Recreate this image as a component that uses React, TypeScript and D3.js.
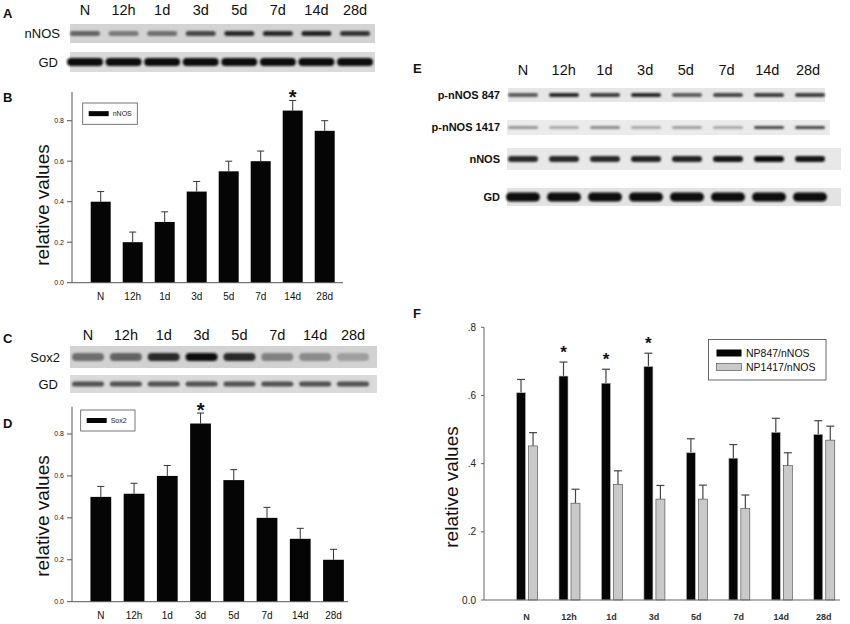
import React from 'react';
import * as d3 from 'd3';

const lanes = ['N', '12h', '1d', '3d', '5d', '7d', '14d', '28d'];

// band intensities read from the blots (0 = none, 1 = darkest)
const blotA_nNOS = [0.55, 0.45, 0.5, 0.7, 0.85, 0.85, 0.9, 0.8];
const blotA_GD = [1, 1, 1, 1, 1, 1, 1, 1];
const blotC_Sox2 = [0.5, 0.55, 0.85, 1, 0.85, 0.4, 0.35, 0.25];
const blotC_GD = [0.65, 0.65, 0.65, 0.65, 0.65, 0.65, 0.65, 0.65];
const blotE_p847 = [0.6, 0.85, 0.75, 0.85, 0.6, 0.7, 0.75, 0.75];
const blotE_p1417 = [0.3, 0.2, 0.35, 0.2, 0.25, 0.2, 0.7, 0.7];
const blotE_nNOS = [0.85, 0.85, 0.85, 0.9, 0.9, 0.95, 1, 0.95];
const blotE_GD = [1, 1, 1, 1, 1, 1, 1, 1];

// panel B
const nnosValues = [0.4, 0.2, 0.3, 0.45, 0.55, 0.6, 0.85, 0.75];
const nnosErr = [0.05, 0.05, 0.05, 0.05, 0.05, 0.05, 0.05, 0.05];
const nnosSig = ['14d'];

// panel D
const sox2Values = [0.5, 0.515, 0.6, 0.85, 0.58, 0.4, 0.3, 0.2];
const sox2Err = [0.05, 0.05, 0.05, 0.05, 0.05, 0.05, 0.05, 0.05];
const sox2Sig = ['3d'];

// panel F
const np847 = [0.608, 0.657, 0.636, 0.685, 0.432, 0.416, 0.492, 0.486];
const np847Err = [0.039, 0.041, 0.041, 0.039, 0.041, 0.04, 0.041, 0.04];
const np1417 = [0.452, 0.284, 0.339, 0.296, 0.296, 0.268, 0.394, 0.469];
const np1417Err = [0.039, 0.041, 0.04, 0.04, 0.041, 0.04, 0.038, 0.041];
const fSig = ['12h', '1d', '3d'];
const fSeries = ['NP847/nNOS', 'NP1417/nNOS'];

const yTicks = [0, 0.2, 0.4, 0.6, 0.8];
const yTickLabelsF = ['0.0', '.2', '.4', '.6', '.8'];

const FONT = "Arial, 'Liberation Sans', sans-serif";
const bandColor = d3.interpolateRgb('#cfcfcf', '#0d0d0d');

function PanelLetter({ x, y, t }: { x: number; y: number; t: string }) {
  return (
    <text x={x} y={y} fontSize={13} fontWeight="bold" fontFamily={FONT} fill="#111">
      {t}
    </text>
  );
}

function LaneHeaders({ x, y, size }: { x: d3.ScalePoint<string>; y: number; size: number }) {
  return (
    <g>
      {lanes.map(l => (
        <text key={l} x={x(l)} y={y} fontSize={size} textAnchor="middle" fontFamily={FONT} fill="#111">
          {l}
        </text>
      ))}
    </g>
  );
}

interface StripProps {
  x: d3.ScalePoint<string>;
  x0: number;
  x1: number;
  y: number;
  h: number;
  label: string;
  labelX: number;
  values: number[];
  bandW: number;
  bandH: number;
  bg: string;
  bold?: boolean;
  fontSize?: number;
}

function Strip({ x, x0, x1, y, h, label, labelX, values, bandW, bandH, bg, bold, fontSize = 13 }: StripProps) {
  const cy = y + h / 2;
  return (
    <g>
      <rect x={x0} y={y} width={x1 - x0} height={h} fill={bg} filter="url(#soft)" />
      {lanes.map((l, i) => (
        <rect
          key={l}
          x={(x(l) ?? 0) - bandW / 2}
          y={cy - bandH / 2}
          width={bandW}
          height={bandH}
          rx={bandH / 2}
          fill={bandColor(values[i])}
          filter="url(#blur)"
        />
      ))}
      <text
        x={labelX}
        y={cy}
        dy="0.35em"
        textAnchor="end"
        fontSize={fontSize}
        fontWeight={bold ? 'bold' : 'normal'}
        fontFamily={FONT}
        fill="#111"
      >
        {label}
      </text>
    </g>
  );
}

interface BarPanelProps {
  values: number[];
  errs: number[];
  sig: string[];
  legend: string;
  xRange: [number, number];
  y0: number;
  y08: number;
  axisTop: number;
  axisRight: number;
  labelY: number;
  legendBox: [number, number, number, number];
}

function BarPanel({ values, errs, sig, legend, xRange, y0, y08, axisTop, axisRight, labelY, legendBox }: BarPanelProps) {
  const x = d3.scaleBand<string>().domain(lanes).range(xRange).paddingInner(0.375).paddingOuter(0.1875);
  const y = d3.scaleLinear().domain([0, 0.8]).range([y0, y08]);
  const axisX = 72;
  const fmt = d3.format('.1f');
  const [lx, ly, lw, lh] = legendBox;
  return (
    <g fontFamily={FONT}>
      {lanes.map((l, i) => {
        const bx = x(l) ?? 0;
        const cx = bx + x.bandwidth() / 2;
        const top = y(values[i]);
        const capY = y(values[i] + errs[i]);
        return (
          <g key={l}>
            <line x1={cx} x2={cx} y1={top} y2={capY} stroke="#333" strokeWidth={1} />
            <line x1={cx - 3.5} x2={cx + 3.5} y1={capY} y2={capY} stroke="#333" strokeWidth={1} />
            <rect x={bx} y={top} width={x.bandwidth()} height={y0 - top} fill="#050505" />
            {sig.includes(l) && (
              <text x={cx} y={capY + 4} textAnchor="middle" fontSize={20} fontWeight="bold" fill="#111">
                *
              </text>
            )}
            <text x={cx} y={y0 + 17} textAnchor="middle" fontSize={10} fill="#111">
              {l}
            </text>
          </g>
        );
      })}
      <line x1={axisX} x2={axisX} y1={axisTop} y2={y0} stroke="#555" />
      <line x1={axisX} x2={axisRight} y1={y0} y2={y0} stroke="#555" />
      {yTicks.map(t => (
        <g key={t}>
          <line x1={axisX - 5} x2={axisX} y1={y(t)} y2={y(t)} stroke="#555" />
          <text x={axisX - 8} y={y(t)} dy="0.35em" textAnchor="end" fontSize={7} fill="#222">
            {fmt(t)}
          </text>
        </g>
      ))}
      <text
        transform={`translate(${49},${labelY}) rotate(-90)`}
        textAnchor="middle"
        fontSize={19}
        fill="#111"
      >
        relative values
      </text>
      <rect x={lx} y={ly} width={lw} height={lh} fill="#fff" stroke="#555" strokeWidth={0.8} />
      <rect x={lx + 6} y={ly + lh / 2 - 2.5} width={20} height={5} fill="#050505" />
      <text x={lx + 30} y={ly + lh / 2} dy="0.35em" fontSize={7} fill="#222">
        {legend}
      </text>
    </g>
  );
}

function PanelF() {
  const y0 = 600;
  const y = d3.scaleLinear().domain([0, 0.8]).range([y0, 327.3]);
  const x = d3.scaleBand<string>().domain(lanes).range([505.3, 845]);
  const sub = d3.scaleBand<string>().domain(fSeries).range([-10, 11]).paddingInner(0.25);
  const series = [
    { key: fSeries[0], vals: np847, errs: np847Err, fill: '#050505', stroke: '#bbb' },
    { key: fSeries[1], vals: np1417, errs: np1417Err, fill: '#c9c9c9', stroke: '#444' },
  ];
  const axisX = 484;
  return (
    <g fontFamily={FONT}>
      {lanes.map((l, i) => {
        const c = (x(l) ?? 0) + x.bandwidth() / 2;
        return (
          <g key={l}>
            {series.map(s => {
              const bx = c + (sub(s.key) ?? 0);
              const cx = bx + sub.bandwidth() / 2;
              const top = y(s.vals[i]);
              const capY = y(s.vals[i] + s.errs[i]);
              return (
                <g key={s.key}>
                  <line x1={cx} x2={cx} y1={top} y2={capY} stroke="#444" strokeWidth={1.2} />
                  <line x1={cx - 4} x2={cx + 4} y1={capY} y2={capY} stroke="#444" strokeWidth={1.2} />
                  <rect
                    x={bx}
                    y={top}
                    width={sub.bandwidth()}
                    height={y0 - top}
                    fill={s.fill}
                    stroke={s.stroke}
                    strokeWidth={0.6}
                  />
                </g>
              );
            })}
            {fSig.includes(l) && (
              <text
                x={c + (sub(fSeries[0]) ?? 0) + sub.bandwidth() / 2}
                y={y(np847[i] + np847Err[i]) - 4}
                textAnchor="middle"
                fontSize={17}
                fontWeight="bold"
                fill="#111"
              >
                *
              </text>
            )}
            <text x={c} y={620} textAnchor="middle" fontSize={9} fontWeight="bold" fill="#333">
              {l}
            </text>
          </g>
        );
      })}
      <line x1={axisX} x2={axisX} y1={327.3} y2={y0} stroke="#666" />
      <line x1={axisX} x2={840} y1={y0} y2={y0} stroke="#666" />
      {yTicks.map((t, i) => (
        <g key={t}>
          <line x1={axisX - 3} x2={axisX} y1={y(t)} y2={y(t)} stroke="#666" />
          <text x={476} y={y(t)} dy="0.35em" textAnchor="end" fontSize={10} fill="#222">
            {yTickLabelsF[i]}
          </text>
        </g>
      ))}
      <text transform="translate(458,487) rotate(-90)" textAnchor="middle" fontSize={19} fill="#111">
        relative values
      </text>
      <rect x={708.5} y={339.5} width={117.5} height={40.5} fill="#fff" stroke="#444" strokeWidth={0.8} />
      {series.map((s, i) => (
        <g key={s.key}>
          <rect
            x={716.5}
            y={349.5 + i * 14}
            width={25}
            height={7}
            fill={s.fill}
            stroke={i === 1 ? '#444' : 'none'}
            strokeWidth={0.6}
          />
          <text x={746} y={353 + i * 14} dy="0.35em" fontSize={10.5} fill="#111">
            {s.key}
          </text>
        </g>
      ))}
    </g>
  );
}

export default function App() {
  const xA = d3.scalePoint<string>().domain(lanes).range([85, 355]);
  const xC = d3.scalePoint<string>().domain(lanes).range([88, 353]);
  const xE = d3.scalePoint<string>().domain(lanes).range([523, 810]);
  const xEHead = d3.scalePoint<string>().domain(lanes).range([523, 808]);

  return (
    <div style={{ position: 'absolute', left: 0, top: 0 }}>
      <svg width={850} height={624} style={{ display: 'block', background: '#fff' }}>
        <defs>
          <filter id="blur" x="-20%" y="-80%" width="140%" height="260%">
            <feGaussianBlur stdDeviation="0.9" />
          </filter>
          <filter id="soft">
            <feGaussianBlur stdDeviation="0.5" />
          </filter>
        </defs>

        {/* A */}
        <PanelLetter x={3} y={18} t="A" />
        <LaneHeaders x={xA} y={15} size={14.5} />
        <Strip x={xA} x0={70} x1={375} y={24} h={19} label="nNOS" labelX={60} values={blotA_nNOS} bandW={30} bandH={5} bg="#d3d3d3" />
        <Strip x={xA} x0={70} x1={375} y={52} h={20} label="GD" labelX={58} values={blotA_GD} bandW={36} bandH={8} bg="#dadada" />

        {/* B */}
        <PanelLetter x={3} y={102} t="B" />
        <BarPanel
          values={nnosValues}
          errs={nnosErr}
          sig={nnosSig}
          legend="nNOS"
          xRange={[84.7, 340.7]}
          y0={282.7}
          y08={120.7}
          axisTop={92}
          axisRight={343}
          labelY={205}
          legendBox={[82.7, 103, 54.6, 21.3]}
        />

        {/* C */}
        <PanelLetter x={3} y={343} t="C" />
        <LaneHeaders x={xC} y={340} size={14.5} />
        <Strip x={xC} x0={70} x1={377} y={346} h={22} label="Sox2" labelX={60} values={blotC_Sox2} bandW={32} bandH={8} bg="#d2d2d2" />
        <Strip x={xC} x0={70} x1={377} y={375} h={18} label="GD" labelX={58} values={blotC_GD} bandW={32} bandH={5} bg="#dadada" />

        {/* D */}
        <PanelLetter x={3} y={428} t="D" />
        <BarPanel
          values={sox2Values}
          errs={sox2Err}
          sig={sox2Sig}
          legend="Sox2"
          xRange={[84.2, 350.1]}
          y0={601.7}
          y08={434}
          axisTop={406.7}
          axisRight={348}
          labelY={516}
          legendBox={[80.7, 410, 54.3, 21]}
        />

        {/* E */}
        <PanelLetter x={413} y={73} t="E" />
        <LaneHeaders x={xEHead} y={75} size={14.5} />
        <Strip x={xE} x0={508} x1={825} y={88} h={14} label="p-nNOS 847" labelX={500} values={blotE_p847} bandW={30} bandH={4} bg="#e6e6e6" bold fontSize={11} />
        <Strip x={xE} x0={507} x1={830} y={120} h={15} label="p-nNOS 1417" labelX={500} values={blotE_p1417} bandW={30} bandH={3} bg="#ebebeb" bold fontSize={11} />
        <Strip x={xE} x0={507} x1={841} y={148} h={22} label="nNOS" labelX={500} values={blotE_nNOS} bandW={30} bandH={6} bg="#e8e8e8" bold fontSize={11} />
        <Strip x={xE} x0={507} x1={841} y={188} h={18} label="GD" labelX={500} values={blotE_GD} bandW={34} bandH={9} bg="#e3e3e3" bold fontSize={11} />

        {/* F */}
        <PanelLetter x={413} y={318} t="F" />
        <PanelF />
      </svg>
    </div>
  );
}
